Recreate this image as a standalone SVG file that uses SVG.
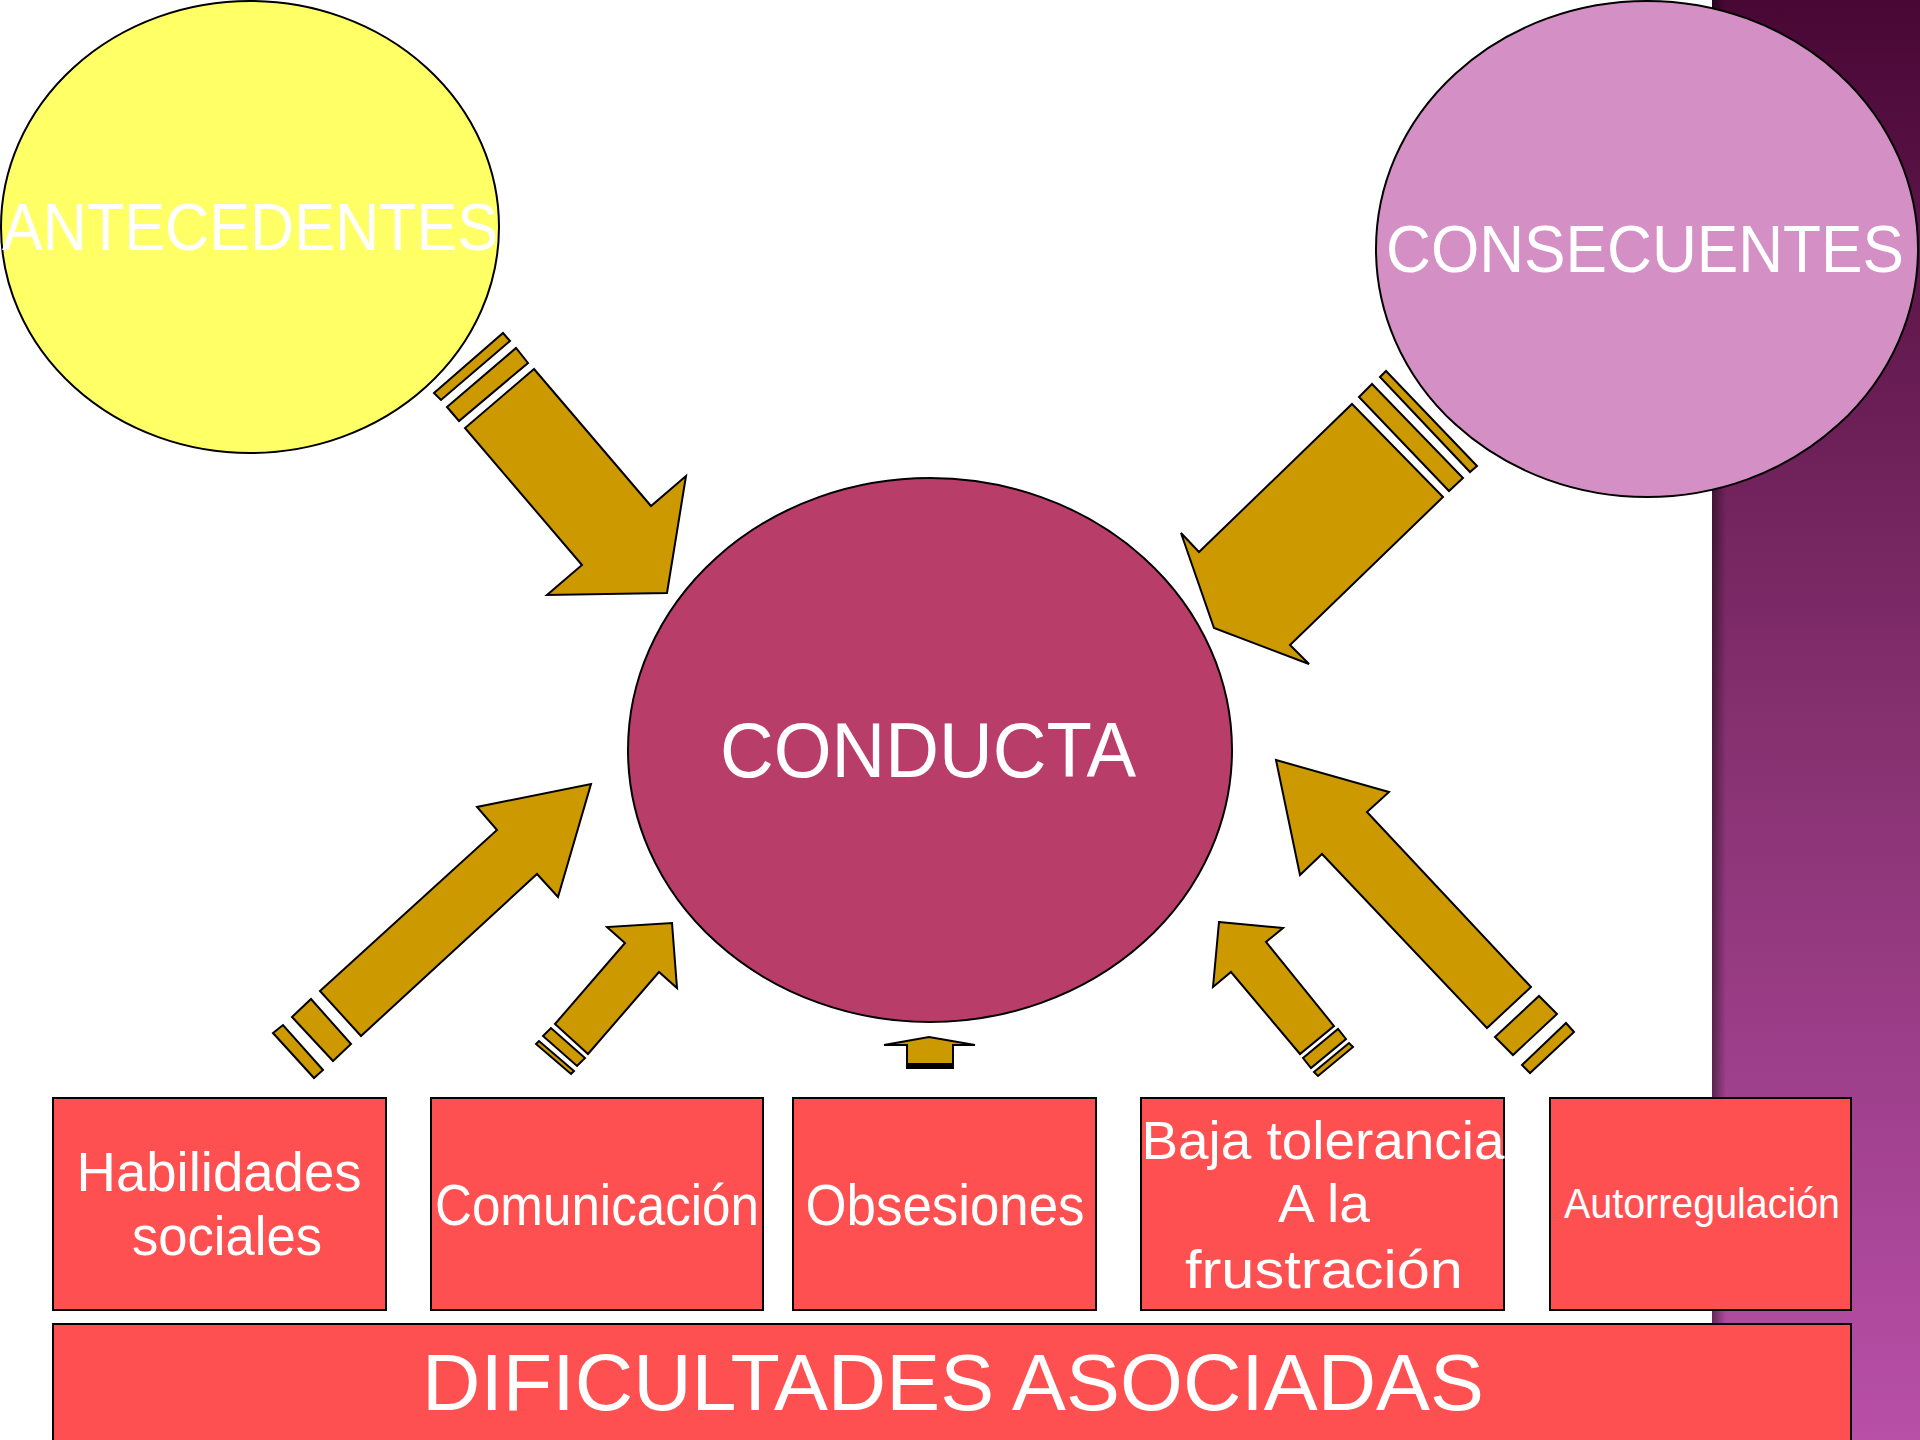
<svg xmlns="http://www.w3.org/2000/svg" width="1920" height="1440" viewBox="0 0 1920 1440">
<defs>
<linearGradient id="bg" x1="0" y1="0" x2="0" y2="1">
<stop offset="0" stop-color="#480735"/>
<stop offset="0.5" stop-color="#85306f"/>
<stop offset="1" stop-color="#b84fa8"/>
</linearGradient>
<linearGradient id="edge" x1="0" y1="0" x2="1" y2="0">
<stop offset="0" stop-color="#000" stop-opacity="0.45"/>
<stop offset="1" stop-color="#000" stop-opacity="0"/>
</linearGradient>
<style>
.ell{stroke:#000;stroke-width:2}
.box{fill:#fe5050;stroke:#000;stroke-width:2}
.arr{fill:#cc9900;stroke:#000;stroke-width:2;stroke-linejoin:miter}
.t{fill:#fff;font-family:"Liberation Sans","Noto Sans",sans-serif;text-anchor:middle}
</style>
</defs>
<rect x="0" y="0" width="1920" height="1440" fill="#fff"/>
<g id="background">
<rect x="1712" y="0" width="208" height="1440" fill="url(#bg)"/>
<rect x="1712" y="0" width="14" height="1440" fill="url(#edge)"/>
</g>
<g id="connectors">
<g id="arrow-antecedentes">
<polygon class="arr" points="534,369 465,428 582,565 547,595 667,593 686,476 651,506"/>
<polygon class="arr" points="447,407 516,348 528,363 459,421"/>
<polygon class="arr" points="434,393 503,333 510,341 441,400"/>
</g>
<g id="arrow-consecuentes">
<polygon class="arr" points="1352,404 1443,497 1290,645 1309,664 1214,628 1181,533 1199,552"/>
<polygon class="arr" points="1359,397 1372,384 1463,478 1449,491"/>
<polygon class="arr" points="1380,377 1386,371 1477,466 1470,472"/>
</g>
<g id="arrow-habilidades">
<polygon class="arr" points="320,991 497,830 477,807 591,784 558,897 537,874 361,1036"/>
<polygon class="arr" points="292,1017 311,999 351,1044 333,1061"/>
<polygon class="arr" points="273,1033 283,1025 323,1070 314,1078"/>
</g>
<g id="arrow-comunicacion">
<polygon class="arr" points="555,1024 625,943 607,927 672,923 677,988 659,972 588,1054"/>
<polygon class="arr" points="543,1036 551,1028 585,1058 577,1066"/>
<polygon class="arr" points="536,1044 539,1041 574,1071 571,1074"/>
</g>
<g id="arrow-obsesiones">
<polygon class="arr" points="884,1045 929,1037 975,1045 953,1045 953,1066 907,1066 907,1045" stroke-width="2.5"/>
<rect x="906" y="1063" width="48" height="6" fill="#000"/>
</g>
<g id="arrow-baja">
<polygon class="arr" points="1219,922 1283,928 1266,942 1334,1026 1300,1054 1231,972 1213,987"/>
<polygon class="arr" points="1303,1058 1338,1029 1346,1039 1311,1068"/>
<polygon class="arr" points="1314,1072 1349,1043 1353,1047 1318,1076"/>
</g>
<g id="arrow-autorregulacion">
<polygon class="arr" points="1276,760 1389,792 1367,812 1531,987 1487,1028 1322,854 1300,875"/>
<polygon class="arr" points="1495,1037 1539,996 1557,1014 1513,1055"/>
<polygon class="arr" points="1522,1065 1566,1023 1574,1032 1530,1073"/>
</g>
</g>
<g id="node-antecedentes">
<ellipse class="ell" cx="250" cy="227" rx="249" ry="226" fill="#ffff66"/>
<text class="t" x="250" y="250" font-size="67" textLength="496" lengthAdjust="spacingAndGlyphs">ANTECEDENTES</text>
</g>
<g id="node-consecuentes">
<ellipse class="ell" cx="1647" cy="249" rx="271" ry="248" fill="#d48fc4"/>
<text class="t" x="1645" y="272" font-size="67" textLength="518" lengthAdjust="spacingAndGlyphs">CONSECUENTES</text>
</g>
<g id="node-conducta">
<ellipse class="ell" cx="930" cy="750" rx="302" ry="272" fill="#b83d68"/>
<text class="t" x="928" y="777" font-size="77" textLength="416" lengthAdjust="spacingAndGlyphs">CONDUCTA</text>
</g>
<g id="node-habilidades">
<rect class="box" x="53" y="1098" width="333" height="212"/>
<text class="t" x="219" y="1191" font-size="55" textLength="285" lengthAdjust="spacingAndGlyphs">Habilidades</text>
<text class="t" x="227" y="1255" font-size="55" textLength="190" lengthAdjust="spacingAndGlyphs">sociales</text>
</g>
<g id="node-comunicacion">
<rect class="box" x="431" y="1098" width="332" height="212"/>
<text class="t" x="597" y="1225" font-size="58" textLength="324" lengthAdjust="spacingAndGlyphs">Comunicación</text>
</g>
<g id="node-obsesiones">
<rect class="box" x="793" y="1098" width="303" height="212"/>
<text class="t" x="945" y="1225" font-size="58" textLength="279" lengthAdjust="spacingAndGlyphs">Obsesiones</text>
</g>
<g id="node-baja">
<rect class="box" x="1141" y="1098" width="363" height="212"/>
<text class="t" x="1323" y="1159" font-size="54" textLength="363" lengthAdjust="spacingAndGlyphs">Baja tolerancia</text>
<text class="t" x="1324" y="1222" font-size="54" textLength="92" lengthAdjust="spacingAndGlyphs">A la</text>
<text class="t" x="1324" y="1288" font-size="54" textLength="278" lengthAdjust="spacingAndGlyphs">frustración</text>
</g>
<g id="node-autorregulacion">
<rect class="box" x="1550" y="1098" width="301" height="212"/>
<text class="t" x="1702" y="1218" font-size="42" textLength="276" lengthAdjust="spacingAndGlyphs">Autorregulación</text>
</g>
<g id="node-dificultades">
<rect class="box" x="53" y="1324" width="1798" height="130"/>
<text class="t" x="953" y="1410" font-size="79" textLength="1062" lengthAdjust="spacingAndGlyphs">DIFICULTADES ASOCIADAS</text>
</g>
</svg>
